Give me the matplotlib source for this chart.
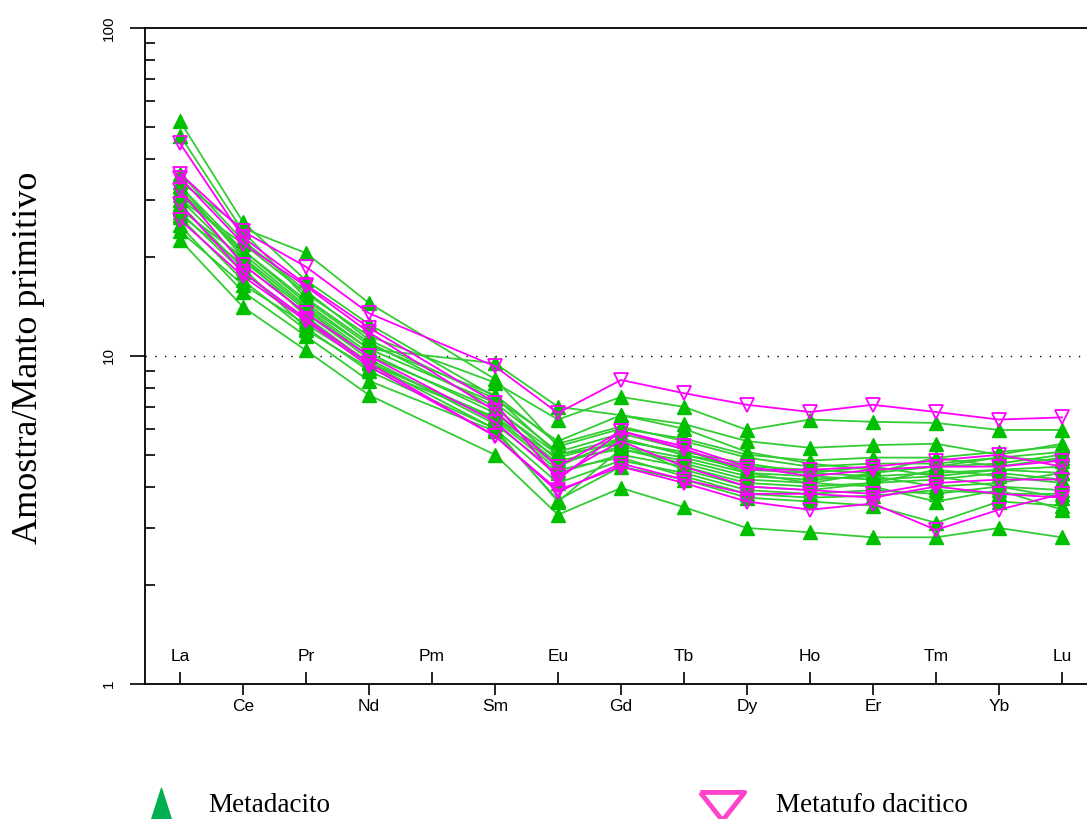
import numpy as np
import matplotlib
matplotlib.use("Agg")
import matplotlib.pyplot as plt
from matplotlib.ticker import FixedLocator, NullFormatter, FixedFormatter

# element order on the x axis (Pm has no data)
elements = ["La", "Ce", "Pr", "Nd", "Pm", "Sm", "Eu", "Gd", "Tb", "Dy",
            "Ho", "Er", "Tm", "Yb", "Lu"]
measured = ["La", "Ce", "Pr", "Nd", "Sm", "Eu", "Gd", "Tb", "Dy",
            "Ho", "Er", "Tm", "Yb", "Lu"]

# primitive-mantle normalised values, Metadacito samples
metadacito = [
    [52.0, 25.6, 17.0, 12.5, 7.5, 5.0, 5.6, 5.0, 4.6, 4.5, 4.4, 4.6, 4.7, 5.0],
    [47.0, 24.0, 15.0, 11.0, 7.0, 4.8, 5.2, 4.8, 4.3, 4.2, 4.3, 4.4, 4.5, 4.4],
    [30.0, 22.0, 15.5, 11.5, 8.3, 6.4, 7.5, 7.0, 5.95, 6.4, 6.3, 6.25, 5.95, 5.95],
    [33.0, 21.0, 14.5, 10.5, 9.5, 7.0, 6.6, 6.2, 5.5, 5.25, 5.35, 5.4, 5.0, 5.4],
    [22.6, 14.1, 10.4, 7.6, 5.0, 3.28, 3.96, 3.46, 2.99, 2.9, 2.8, 2.8, 2.99, 2.8],
    [25.0, 15.7, 11.5, 8.4, 5.9, 3.64, 4.6, 4.2, 3.7, 3.6, 3.5, 3.1, 3.6, 3.5],
    [34.0, 24.5, 20.6, 14.5, 8.5, 5.3, 6.0, 5.6, 5.0, 4.8, 4.9, 4.9, 5.1, 5.3],
    [28.0, 20.0, 14.0, 10.2, 6.7, 4.7, 5.3, 4.9, 4.4, 4.3, 4.2, 4.3, 4.5, 4.6],
    [27.0, 19.0, 13.5, 9.8, 6.2, 4.4, 5.0, 4.6, 4.1, 4.0, 4.1, 4.5, 4.3, 4.1],
    [31.0, 21.0, 14.8, 10.8, 7.6, 5.4, 6.1, 5.5, 4.9, 4.6, 4.7, 4.7, 4.9, 4.8],
    [29.0, 18.5, 12.2, 9.0, 6.0, 4.1, 4.8, 4.4, 3.9, 3.8, 3.9, 3.8, 4.0, 3.7],
    [26.5, 17.0, 12.0, 9.2, 6.5, 4.9, 5.5, 5.1, 4.7, 4.4, 4.6, 4.3, 4.0, 3.9],
    [32.0, 20.5, 14.2, 10.5, 7.2, 5.1, 5.8, 5.2, 4.4, 4.1, 4.4, 4.9, 4.6, 4.9],
    [24.0, 16.5, 12.5, 9.5, 6.0, 3.6, 5.2, 4.7, 4.2, 4.1, 4.0, 3.6, 3.9, 3.4],
    [30.0, 19.5, 13.8, 10.0, 6.9, 5.0, 5.4, 4.5, 4.0, 3.9, 4.1, 4.2, 4.4, 4.2],
    [36.0, 22.5, 15.8, 11.2, 7.4, 5.5, 6.6, 6.0, 5.1, 4.7, 4.5, 4.6, 4.9, 5.1],
    [27.5, 18.0, 12.8, 9.6, 6.4, 4.5, 4.9, 4.3, 3.8, 3.7, 3.75, 3.9, 3.8, 3.8],
    [33.0, 20.0, 13.2, 9.5, 6.5, 4.6, 5.6, 5.0, 4.5, 4.4, 4.3, 4.0, 4.1, 4.4],
]

# Metatufo dacitico samples
metatufo = [
    [36.0, 24.0, 18.7, 13.5, 9.3, 6.7, 8.45, 7.7, 7.1, 6.75, 7.1, 6.75, 6.4, 6.5],
    [44.5, 23.0, 16.5, 12.2, 7.2, 4.2, 5.9, 5.2, 4.5, 4.5, 4.6, 4.8, 5.0, 4.6],
    [35.0, 22.0, 16.3, 11.8, 6.8, 4.6, 5.9, 5.3, 4.6, 4.3, 4.5, 4.6, 4.6, 4.8],
    [29.0, 18.0, 13.0, 9.5, 5.7, 3.9, 4.6, 4.1, 3.6, 3.4, 3.55, 2.95, 3.4, 3.8],
    [26.0, 17.5, 12.8, 9.3, 5.7, 3.85, 4.7, 4.2, 3.8, 3.8, 3.7, 4.0, 3.8, 3.7],
    [32.0, 19.0, 13.5, 10.0, 6.3, 4.3, 5.5, 4.6, 4.0, 3.9, 3.8, 4.1, 4.2, 4.2],
]

W, H = 1087, 819
fig = plt.figure(figsize=(W / 100, H / 100), dpi=100)
ax = fig.add_axes([145 / W, (H - 684) / H, (W - 145) / W, (684 - 28) / H])

xpos = [elements.index(e) for e in measured]

for row in metadacito:
    ax.plot(xpos, row, color="#33cc33", lw=1.3, marker="^", ms=9.5,
            mfc="#00c000", mec="#00c000", zorder=2)
for row in metatufo:
    ax.plot(xpos, row, color="#ff00ff", lw=1.3, marker="v", ms=9.5,
            mfc="none", mec="#ff00ff", mew=1.3, zorder=3)

ax.axhline(10, color="black", lw=1, ls=(0, (1, 6)), zorder=1)

ax.set_yscale("log")
ax.set_ylim(1, 100)
ax.set_xlim(-35 / 63, (W - 180) / 63)

ax.spines["right"].set_visible(False)
for side in ["left", "bottom", "top"]:
    ax.spines[side].set_linewidth(1.3)

# y axis: major ticks outside, minor inside
ax.yaxis.set_major_locator(FixedLocator([1, 10, 100]))
ax.yaxis.set_major_formatter(FixedFormatter(["1", "10", "100"]))
ax.yaxis.set_minor_locator(FixedLocator(
    [k * 10 ** d for d in (0, 1) for k in range(2, 10)]))
ax.yaxis.set_minor_formatter(NullFormatter())
ax.tick_params(axis="y", which="major", direction="out", length=11, width=1.2,
               labelsize=11, pad=10)
ax.tick_params(axis="y", which="minor", direction="in", length=7, width=1.2)
for lab in ax.get_yticklabels():
    lab.set_rotation(90)
    lab.set_va("center")
    lab.set_family("Liberation Sans")

# x axis: alternating labels, every other one inside with inward ticks
low = [i for i in range(len(elements)) if i % 2 == 1]
high = [i for i in range(len(elements)) if i % 2 == 0]
ax.xaxis.set_major_locator(FixedLocator(low))
ax.xaxis.set_major_formatter(FixedFormatter([elements[i] for i in low]))
ax.xaxis.set_minor_locator(FixedLocator(high))
ax.xaxis.set_minor_formatter(FixedFormatter([elements[i] for i in high]))
ax.tick_params(axis="x", which="major", direction="out", length=8, width=1.2,
               labelsize=12.5, pad=3)
ax.tick_params(axis="x", which="minor", direction="in", length=9, width=1.2,
               labelsize=12.5, pad=-25)
for lab in ax.get_xticklabels(which="both"):
    lab.set_family("Liberation Sans")

fig.text(29 / W, 1 - 358 / H, "Amostra/Manto primitivo", rotation=90,
         ha="center", va="center", fontsize=26, family="Liberation Serif")

# legend along the bottom
tri_up = [(-0.32, -0.5), (0.32, -0.5), (0, 0.5), (-0.32, -0.5)]
tri_down = [(-0.6, 0.38), (0.6, 0.38), (0, -0.38), (-0.6, 0.38)]
ax.plot([161 / W], [1 - 806 / H], marker=tri_up, ms=26, color="#00b050",
        transform=fig.transFigure, clip_on=False)
fig.text(208 / W, 1 - 806 / H, "Metadacito", ha="left", va="center",
         fontsize=19.5, family="Liberation Serif")
ax.plot([722 / W], [1 - 806 / H], marker=tri_down, ms=32, mfc="none",
        mec="#ff44cc", mew=3.5, transform=fig.transFigure, clip_on=False)
fig.text(776 / W, 1 - 806 / H, "Metatufo dacitico", ha="left", va="center",
         fontsize=19.5, family="Liberation Serif")

fig.savefig("out.png", dpi=100)
